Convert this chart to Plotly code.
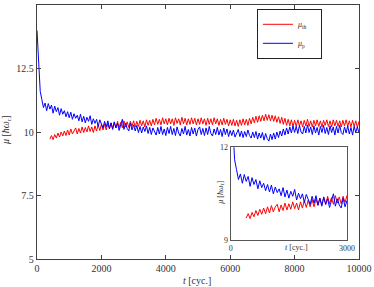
import plotly.graph_objects as go

t_p = [i * 50 for i in range(201)]
mu_p = [
    14.00, 12.80, 11.60, 11.28, 10.96, 11.14, 10.84, 11.12, 10.90, 11.06,
    10.74, 11.02, 10.80, 10.96, 10.66, 10.92, 10.70, 10.84, 10.60, 10.80,
    10.56, 10.78, 10.50, 10.72, 10.54, 10.66, 10.44, 10.70, 10.40, 10.62,
    10.36, 10.58, 10.42, 10.64, 10.30, 10.52, 10.34, 10.50, 10.22, 10.48,
    10.28, 10.16, 10.42, 10.20, 10.44, 10.14, 10.36, 10.10, 10.40, 10.16,
    10.34, 10.06, 10.28, 10.50, 10.10, 10.34, 10.14, 10.04, 10.36, 10.08,
    10.28,
    10.04, 10.26, 9.98, 10.22, 9.96, 10.20, 10.02, 10.24, 9.94, 10.18,
    9.90, 10.16, 10.04, 9.88, 10.18, 9.92, 10.22, 9.90, 10.12, 9.86,
    10.18, 9.94, 10.22, 9.90, 10.14, 9.86, 10.20, 9.96, 9.84, 10.14,
    9.92, 10.22, 9.88, 10.10, 9.84, 10.18, 9.92, 10.16, 9.84, 10.10,
    10.20, 9.90, 10.14, 9.86, 10.16, 9.90, 10.22, 9.94, 9.84, 10.12,
    9.90, 10.18, 9.88, 10.10, 9.82, 10.16, 9.90, 10.12, 9.82, 10.06,
    9.86, 10.08, 9.80, 9.98, 10.10, 9.82, 10.04, 9.78, 10.02, 9.82,
    10.08, 9.86, 9.76, 10.00, 9.78, 10.02, 9.72, 9.96, 9.76, 9.98,
    9.68, 9.94, 9.74, 9.64, 9.92, 9.70, 9.96, 9.72, 10.00, 9.78,
    10.04, 9.84, 10.12, 9.88, 10.16, 9.92, 10.20, 9.96, 10.24, 9.98,
    10.22, 9.94, 10.26, 10.00, 9.92, 10.22, 9.96, 10.28, 9.98, 10.20,
    9.90, 10.24, 9.96, 10.18, 9.88, 10.22, 9.98, 10.26, 9.94, 10.18,
    9.90, 10.24, 9.98, 10.20, 9.88, 10.22, 9.96, 10.26, 9.98, 9.90,
    10.20, 9.96, 10.24, 9.92, 10.18, 9.88, 10.22, 9.98, 10.20, 9.96,
]

t_th = [400 + i * 50 for i in range(193)]
mu_th = [
    9.72, 9.86, 9.70, 9.90, 9.76, 9.96, 9.80, 10.00, 9.84, 10.04,
    9.86, 10.08, 9.88, 10.12, 9.92, 10.08, 10.16, 9.92, 10.14, 9.96,
    10.20, 9.98, 10.18, 10.00, 10.24, 10.02, 10.20, 9.98, 10.24, 10.04,
    10.28, 10.06, 10.30, 10.08, 10.32, 10.08, 10.34, 10.12, 10.36, 10.14,
    10.38, 10.16, 10.42, 10.18, 10.38, 10.16, 10.44, 10.20, 10.40, 10.18,
    10.42, 10.22, 10.44,
    10.20, 10.42, 10.22, 10.46, 10.24, 10.44, 10.20, 10.48, 10.26, 10.46,
    10.24, 10.50, 10.28, 10.54, 10.30, 10.50, 10.28, 10.56, 10.32, 10.52,
    10.28, 10.54, 10.32, 10.52, 10.26, 10.56, 10.34, 10.52, 10.28, 10.58,
    10.32, 10.54, 10.28, 10.52, 10.30, 10.56, 10.32, 10.54, 10.28, 10.52,
    10.30, 10.56, 10.32, 10.52, 10.26, 10.54, 10.30, 10.52, 10.28, 10.56,
    10.32, 10.52, 10.26, 10.50, 10.28, 10.54, 10.30, 10.50, 10.24, 10.48,
    10.26, 10.50, 10.24, 10.46, 10.22, 10.48, 10.26, 10.52, 10.28, 10.50,
    10.26, 10.54, 10.32, 10.58, 10.36, 10.62, 10.38, 10.64, 10.42, 10.66,
    10.44, 10.70, 10.46, 10.68, 10.44, 10.66, 10.42, 10.64, 10.38, 10.60,
    10.34, 10.58, 10.30, 10.54, 10.26, 10.50, 10.24, 10.48, 10.22, 10.46,
    10.22, 10.48, 10.24, 10.44, 10.20, 10.46, 10.24, 10.50, 10.22, 10.44,
    10.20, 10.46, 10.24, 10.48, 10.22, 10.44, 10.20, 10.46, 10.26, 10.48,
    10.22, 10.44, 10.20, 10.48, 10.24, 10.46, 10.22, 10.44, 10.20, 10.46,
    10.24, 10.48, 10.22, 10.44, 10.20, 10.46, 10.22, 10.44, 10.18, 10.42,
]

x_ticks = [0, 2000, 4000, 6000, 8000, 10000]
x_tick_text = ["0", "2000", "4000", "6000", "8000", "10000"]
y_ticks = [5, 7.5, 10, 12.5, 15]
y_tick_text = ["5", "7.5", "10", "12.5", "15"]
inset_x_ticks = [0, 3000]
inset_x_tick_text = ["0", "3000"]
inset_y_ticks = [9, 12]

RED = "#ff0000"
BLUE = "#0000ff"
FONT = "Liberation Serif"
TXT = "#333333"

fig = go.Figure()
fig.add_trace(go.Scatter(x=t_th, y=mu_th, mode="lines",
                         name="<i>μ</i><sub>th</sub>&nbsp;&nbsp;&nbsp;&nbsp;",
                         line=dict(color=RED, width=1)))
fig.add_trace(go.Scatter(x=t_p, y=mu_p, mode="lines", name="<i>μ</i><sub>p</sub>",
                         line=dict(color=BLUE, width=1)))
fig.add_trace(go.Scatter(x=t_th, y=mu_th, mode="lines", showlegend=False,
                         line=dict(color=RED, width=1), xaxis="x2", yaxis="y2"))
fig.add_trace(go.Scatter(x=t_p, y=mu_p, mode="lines", showlegend=False,
                         line=dict(color=BLUE, width=1), xaxis="x2", yaxis="y2"))

frame = "#404040"
fig.update_layout(
    width=374, height=287,
    margin=dict(l=37, r=15, t=5, b=28),
    paper_bgcolor="white", plot_bgcolor="white",
    font=dict(family=FONT, size=10, color=TXT),
    xaxis=dict(range=[0, 10000], tickvals=x_ticks, ticktext=x_tick_text,
               ticks="inside", ticklen=4,
               showline=True, linecolor=frame, linewidth=1.3, mirror="ticks",
               showgrid=False, zeroline=False, tickcolor=frame, automargin=False,
               tickfont=dict(size=10)),
    yaxis=dict(range=[5, 15], tickvals=y_ticks, ticktext=y_tick_text,
               ticks="inside", ticklen=4,
               showline=True, linecolor=frame, linewidth=1.3, mirror="ticks",
               showgrid=False, zeroline=False, tickcolor=frame, automargin=False,
               tickfont=dict(size=10)),
    xaxis2=dict(domain=[0.6016, 0.9627], anchor="y2", range=[0, 3000],
                tickvals=inset_x_ticks, ticktext=inset_x_tick_text, ticks="",
                showline=True, linecolor="#555555",
                linewidth=1, mirror=True, showgrid=False, zeroline=False,
                tickfont=dict(size=8, color=TXT), automargin=False),
    yaxis2=dict(domain=[0.0736, 0.4398], anchor="x2", range=[9, 12],
                tickvals=inset_y_ticks, ticks="", showline=True, linecolor="#555555",
                linewidth=1, mirror=True, showgrid=False, zeroline=False,
                tickfont=dict(size=8, color=TXT), automargin=False),
    legend=dict(x=0.683, y=0.985, xanchor="left", yanchor="top",
                bgcolor="white", bordercolor="#222222", borderwidth=1,
                font=dict(size=8, color=TXT), tracegroupgap=0,
                itemwidth=30),
    showlegend=True,
    annotations=[
        dict(text="<i>t</i> [cyc.]", xref="paper", yref="paper", x=0.497, y=-0.083,
             xanchor="center", yanchor="middle", showarrow=False, font=dict(size=10)),
        dict(text="<i>μ</i> [<i>ħω</i><sub>r</sub>]", xref="paper", yref="paper",
             x=-0.093, y=0.508, xanchor="center", yanchor="middle", showarrow=False,
             textangle=-90, font=dict(size=10)),
        dict(text="<i>t</i> [cyc.]", xref="paper", yref="paper", x=0.8065, y=0.0445,
             xanchor="center", yanchor="middle", showarrow=False, font=dict(size=8)),
        dict(text="<i>μ</i> [<i>ħω</i><sub>r</sub>]", xref="paper", yref="paper",
             x=0.5705, y=0.26, xanchor="center", yanchor="middle", showarrow=False,
             textangle=-90, font=dict(size=8)),
    ],
)

fig.write_html("out.html", config={"displayModeBar": False},
               post_script="document.body.style.margin='0';document.body.style.padding='0';")
